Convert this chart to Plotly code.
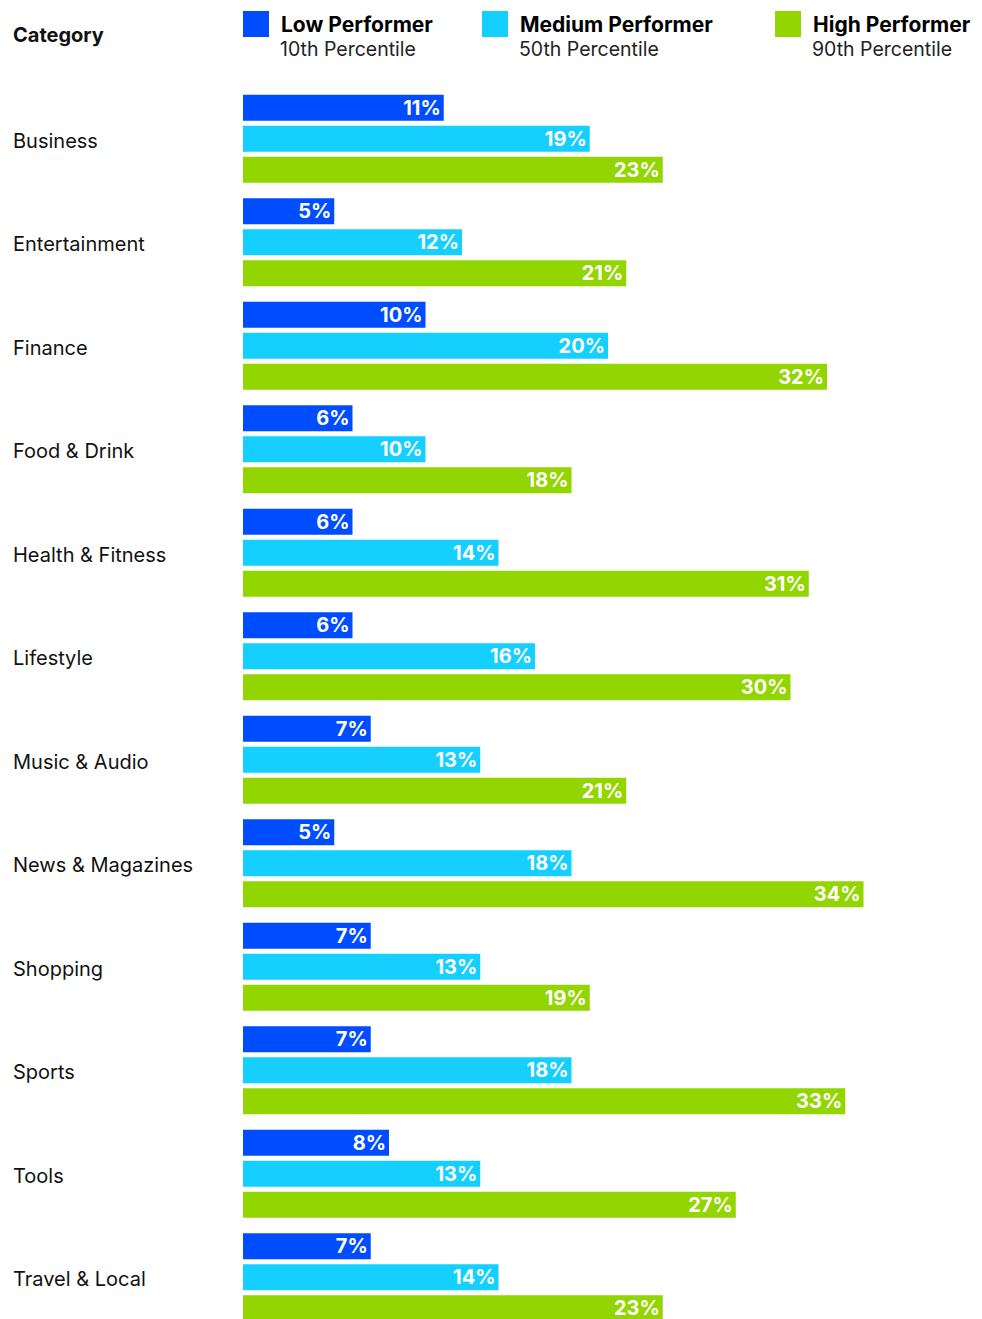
import plotly.graph_objects as go

categories = [
    "Business", "Entertainment", "Finance", "Food & Drink", "Health & Fitness",
    "Lifestyle", "Music & Audio", "News & Magazines", "Shopping", "Sports",
    "Tools", "Travel & Local",
]
low_values = [11, 5, 10, 6, 6, 6, 7, 5, 7, 7, 8, 7]
medium_values = [19, 12, 20, 10, 14, 16, 13, 18, 13, 18, 13, 14]
high_values = [23, 21, 32, 18, 31, 30, 21, 34, 19, 33, 27, 23]

series_names = ["Low Performer", "Medium Performer", "High Performer"]
series_subtitles = ["10th Percentile", "50th Percentile", "90th Percentile"]
series_values = [low_values, medium_values, high_values]
series_colors = ["#004CFF", "#14CFFF", "#93D500"]

W, H = 982, 1319
ML, MT = 243, 87
PLOT_W, PLOT_H = W - ML, H - MT
PX_PER_PCT = 18.25
GROUP_PITCH = 103.5

FONT = "Inter"


def px_x(p):
    return (p - ML) / PLOT_W


def px_y(p):
    return (H - p) / PLOT_H


fig = go.Figure()
for name, vals, color in zip(series_names, series_values, series_colors):
    fig.add_trace(go.Bar(
        name=name,
        y=categories,
        x=vals,
        orientation="h",
        marker=dict(color=color, line=dict(width=0)),
        text=[f"{v}%" for v in vals],
        textposition="inside",
        insidetextanchor="end",
        textfont=dict(family=FONT, size=20, color="white", weight=700),
        cliponaxis=True,
        hoverinfo="skip",
    ))

span = PLOT_H / GROUP_PITCH
fig.update_layout(
    width=W, height=H,
    margin=dict(l=ML, r=0, t=MT, b=0, pad=0),
    paper_bgcolor="white", plot_bgcolor="white",
    barmode="group", bargap=0.101, bargroupgap=0.161,
    showlegend=False,
    uniformtext=dict(minsize=20, mode="show"),
    xaxis=dict(range=[0, PLOT_W / PX_PER_PCT], visible=False, fixedrange=True),
    yaxis=dict(range=[-0.5 + span, -0.5], visible=False, type="category",
               categoryorder="array", categoryarray=categories, fixedrange=True),
    font=dict(family=FONT, color="#111111"),
)

annotations = []
# Category labels, left-aligned at the page edge
for c in categories:
    annotations.append(dict(
        x=px_x(11), xref="paper", y=c, yref="y", xanchor="left", yanchor="middle",
        yshift=-2, text=c, showarrow=False,
        font=dict(family=FONT, size=20, color="#111111"),
    ))
annotations.append(dict(
    x=px_x(11), xref="paper", y=px_y(35), yref="paper", xanchor="left", yanchor="middle",
    text="<b>Category</b>", showarrow=False,
    font=dict(family=FONT, size=20, color="#111111"),
))

# Custom legend: swatch, bold series name, percentile subtitle
legend_x = [243, 482, 775]
shapes = []
for lx, name, sub, color in zip(legend_x, series_names, series_subtitles, series_colors):
    shapes.append(dict(
        type="rect", xref="paper", yref="paper",
        x0=px_x(lx), x1=px_x(lx + 26), y0=px_y(37), y1=px_y(11),
        fillcolor=color, line=dict(width=0),
    ))
    annotations.append(dict(
        x=px_x(lx + 36), xref="paper", y=px_y(24), yref="paper",
        xanchor="left", yanchor="middle", text=f"<b>{name}</b>", showarrow=False,
        font=dict(family=FONT, size=21, color="#000000"),
    ))
    annotations.append(dict(
        x=px_x(lx + 35), xref="paper", y=px_y(49), yref="paper",
        xanchor="left", yanchor="middle", text=sub, showarrow=False,
        font=dict(family=FONT, size=19.5, color="#222222"),
    ))

fig.update_layout(annotations=annotations, shapes=shapes)
fig.write_html("out.html")
